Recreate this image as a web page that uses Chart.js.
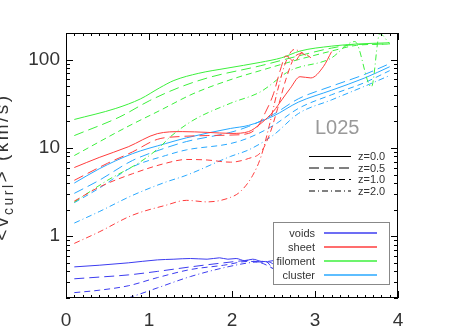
<!DOCTYPE html>
<html>
<head>
<meta charset="utf-8">
<script src="https://cdn.jsdelivr.net/npm/chart.js@4.4.1/dist/chart.umd.min.js"></script>
<style>
    html, body { margin: 0; padding: 0; background: #fff; }
    #wrap { width: 465px; height: 332px; position: relative; }
</style>
</head>
<body>
<div id="wrap"><canvas id="chart" width="465" height="332"></canvas></div>
<script>
// Axis ticks
const xTicks = [0, 1, 2, 3, 4];
const xTickLabels = ['0', '1', '2', '3', '4'];
const yTicks = [1, 10, 100];
const yTickLabels = ['1', '10', '100'];

// Redshift labels and environment names
const redshifts = ['z=0.0', 'z=0.5', 'z=1.0', 'z=2.0'];
const environments = ['voids', 'sheet', 'filoment', 'cluster'];

// voids
const voidsZ0x = [0.1, 0.4, 0.75, 1.1, 1.3, 1.5, 1.7, 1.85, 1.95, 2.05, 2.15, 2.25, 2.35, 2.45, 2.52];
const voidsZ0y = [0.45, 0.47, 0.50, 0.54, 0.55, 0.56, 0.55, 0.57, 0.55, 0.56, 0.53, 0.55, 0.52, 0.51, 0.47];
const voidsZ05x = [0.1, 0.4, 0.75, 1.1, 1.5, 1.9, 2.2, 2.35, 2.5];
const voidsZ05y = [0.33, 0.345, 0.365, 0.40, 0.45, 0.50, 0.53, 0.51, 0.53];
const voidsZ10x = [0.1, 0.4, 0.75, 1.1, 1.5, 1.9, 2.2, 2.35, 2.52];
const voidsZ10y = [0.23, 0.245, 0.275, 0.34, 0.42, 0.47, 0.52, 0.50, 0.42];
const voidsZ20x = [0.6, 0.75, 1.1, 1.5, 1.9, 2.2, 2.4, 2.52];
const voidsZ20y = [0.18, 0.20, 0.26, 0.35, 0.44, 0.50, 0.52, 0.39];

// sheet
const sheetZ0x = [0.1, 0.4, 0.75, 1.1, 1.4, 1.7, 2.0, 2.2, 2.35, 2.5, 2.6, 2.7, 2.82, 2.95, 3.1, 3.2];
const sheetZ0y = [6.0, 7.8, 10.3, 14.5, 15.3, 15.0, 14.6, 15.3, 19, 26, 35, 47, 64, 62, 83, 123];
const sheetZ05x = [0.1, 0.5, 0.8, 1.1, 1.4, 1.7, 2.0, 2.2, 2.3, 2.4, 2.5, 2.58, 2.65, 2.75, 2.85, 2.95];
const sheetZ05y = [4.3, 6.7, 9.0, 12.5, 13.5, 13.8, 14, 14.6, 17, 25, 41, 75, 110, 95, 120, 105];
const sheetZ10x = [0.1, 0.4, 0.8, 1.2, 1.45, 1.7, 1.98, 2.2, 2.35, 2.45, 2.55, 2.65, 2.75, 2.85];
const sheetZ10y = [2.5, 3.6, 5.1, 6.7, 7.4, 7.3, 6.9, 7.6, 9, 14, 28, 60, 105, 120];
const sheetZ20x = [0.1, 0.4, 0.8, 1.2, 1.45, 1.7, 1.98, 2.1, 2.25, 2.35, 2.45, 2.55, 2.65, 2.75, 2.9];
const sheetZ20y = [0.83, 1.12, 1.73, 2.24, 2.55, 2.45, 2.75, 3.2, 4.9, 8, 18, 45, 95, 130, 110];

// filament
const filZ0x = [0.1, 0.6, 0.9, 1.13, 1.3, 1.6, 1.94, 2.34, 2.6, 2.82, 3.2, 3.5, 3.9];
const filZ0y = [21, 28, 36, 48, 58, 70, 80, 93, 105, 125, 142, 150, 155];
const filZ05x = [0.1, 0.65, 1.01, 1.37, 1.73, 2.34, 2.8, 3.2, 3.5, 3.9];
const filZ05y = [13.8, 22.5, 34.4, 48.6, 63, 85, 110, 135, 148, 150];
const filZ10x = [0.1, 0.73, 1.13, 1.53, 2.0, 2.34, 2.8, 3.2, 3.5, 3.9];
const filZ10y = [8.2, 17.2, 26.5, 41, 60, 75, 100, 125, 145, 150];
const filZ20x = [0.1, 0.5, 0.89, 1.13, 1.25, 1.53, 1.98, 2.34, 2.7, 3.18, 3.48, 3.68, 3.78, 3.9];
const filZ20y = [2.44, 4.3, 6.9, 10.2, 13.2, 20.5, 32, 43, 75, 102, 160, 49, 196, 150];

// cluster
const cluX = [0.1, 0.4, 0.8, 1.2, 1.45, 1.98, 2.2, 2.5, 2.8, 3.2, 3.6, 3.9];
const cluZ0y = [4.0, 5.8, 8.6, 11.2, 13, 16.6, 18, 23, 33, 45, 62, 83];
const cluZ05y = [3.06, 4.3, 7.2, 10, 11.8, 15, 17.5, 24, 36, 50, 68, 90];
const cluZ10y = [2.4, 3.5, 6.1, 8.2, 9.5, 11.2, 13, 18, 28, 40, 55, 75];
const cluZ20y = [1.41, 1.9, 2.9, 4.1, 4.9, 8.0, 9.5, 14, 24.5, 35, 50, 66];

const envColors = ['#3c3cf0', '#ff3c3c', '#3cf03c', '#28a8ff'];
const zDashes = [[], [10, 5], [6, 4], [6, 3, 1, 3]];
const FONT = '"Liberation Sans", Arial, sans-serif';

const lines = [
    [0, 0, voidsZ0x, voidsZ0y], [0, 1, voidsZ05x, voidsZ05y], [0, 2, voidsZ10x, voidsZ10y], [0, 3, voidsZ20x, voidsZ20y],
    [1, 0, sheetZ0x, sheetZ0y], [1, 1, sheetZ05x, sheetZ05y], [1, 2, sheetZ10x, sheetZ10y], [1, 3, sheetZ20x, sheetZ20y],
    [2, 0, filZ0x, filZ0y], [2, 1, filZ05x, filZ05y], [2, 2, filZ10x, filZ10y], [2, 3, filZ20x, filZ20y],
    [3, 0, cluX, cluZ0y], [3, 1, cluX, cluZ05y], [3, 2, cluX, cluZ10y], [3, 3, cluX, cluZ20y]
];

const datasets = lines.map(([env, z, xs, ys]) => ({
    label: environments[env] + ' ' + redshifts[z],
    data: xs.map((x, i) => ({ x: x, y: ys[i] })),
    borderColor: envColors[env],
    borderWidth: 1,
    borderDash: zDashes[z],
    pointRadius: 0,
    fill: false,
    cubicInterpolationMode: 'monotone'
}));

// frame, inward ticks, legends and y title
const decorations = {
    id: 'decorations',
    afterDraw(chart) {
        const ctx = chart.ctx;
        const { left, right, top, bottom } = chart.chartArea;
        const xs = chart.scales.x;
        const ys = chart.scales.y;

        ctx.save();
        ctx.strokeStyle = '#000';
        ctx.lineWidth = 1;
        ctx.setLineDash([]);
        ctx.strokeRect(left + 0.5, top + 0.5, right - left - 1, bottom - top - 1);

        // x ticks
        for (let i = 0; i <= 40; i++) {
            const v = i / 10;
            const px = Math.round(xs.getPixelForValue(v)) + 0.5;
            const len = (i % 10 === 0) ? 7 : 3;
            ctx.beginPath();
            ctx.moveTo(px, bottom); ctx.lineTo(px, bottom - len);
            ctx.moveTo(px, top); ctx.lineTo(px, top + len);
            ctx.stroke();
        }
        // y ticks
        [0.1, 1, 10, 100].forEach(dec => {
            for (let m = 1; m <= 9; m++) {
                const v = dec * m;
                if (v < 0.2 || v > 200) continue;
                const py = Math.round(ys.getPixelForValue(v)) + 0.5;
                const len = (m === 1) ? 7 : 4;
                ctx.beginPath();
                ctx.moveTo(left, py); ctx.lineTo(left + len, py);
                ctx.moveTo(right, py); ctx.lineTo(right - len, py);
                ctx.stroke();
            }
        });

        // L025 label
        ctx.fillStyle = '#999';
        ctx.font = '20px ' + FONT;
        ctx.textBaseline = 'middle';
        ctx.textAlign = 'left';
        ctx.fillText('L025', 315, 128);

        // redshift line-style legend
        ctx.font = '11px ' + FONT;
        ctx.fillStyle = '#333';
        const zRows = [156, 167.5, 179, 190.5];
        redshifts.forEach((txt, i) => {
            ctx.strokeStyle = '#000';
            ctx.setLineDash(zDashes[i]);
            ctx.beginPath();
            ctx.moveTo(309, zRows[i] + 0.5);
            ctx.lineTo(351, zRows[i] + 0.5);
            ctx.stroke();
            ctx.fillText(txt, 358, zRows[i] + 1);
        });

        // environment colour legend
        ctx.setLineDash([]);
        ctx.fillStyle = '#fff';
        ctx.fillRect(273, 222, 116, 62);
        ctx.strokeStyle = '#888';
        ctx.strokeRect(273.5, 222.5, 116, 62);
        const eRows = [233, 247, 261, 275];
        ctx.textAlign = 'right';
        ctx.fillStyle = '#333';
        environments.forEach((txt, i) => {
            ctx.fillText(txt, 315, eRows[i] + 1);
            ctx.strokeStyle = envColors[i];
            ctx.lineWidth = 1.5;
            ctx.beginPath();
            ctx.moveTo(324, eRows[i]);
            ctx.lineTo(377, eRows[i]);
            ctx.stroke();
        });

        // y title with subscript
        ctx.translate(8, 167);
        ctx.rotate(-Math.PI / 2);
        ctx.fillStyle = '#333';
        ctx.textAlign = 'left';
        ctx.textBaseline = 'alphabetic';
        if ('letterSpacing' in ctx) ctx.letterSpacing = '2.5px';
        const mainFont = '19px ' + FONT;
        const subFont = '14px ' + FONT;
        const parts = [['<v', mainFont, 0], ['curl', subFont, 5], ['> (km/s)', mainFont, 0]];
        let total = 0;
        parts.forEach(p => { ctx.font = p[1]; total += ctx.measureText(p[0]).width; });
        let cx = -total / 2;
        parts.forEach(p => {
            ctx.font = p[1];
            ctx.fillText(p[0], cx, p[2]);
            cx += ctx.measureText(p[0]).width;
        });
        ctx.restore();
    }
};

new Chart(document.getElementById('chart'), {
    type: 'line',
    data: { datasets: datasets },
    options: {
        responsive: false,
        animation: false,
        devicePixelRatio: 1,
        layout: { padding: { top: 33, right: 67, left: 0, bottom: 0 } },
        plugins: { legend: { display: false }, tooltip: { enabled: false } },
        scales: {
            x: {
                type: 'linear',
                min: 0,
                max: 4,
                afterFit: s => { s.height = 34; },
                afterBuildTicks: s => { s.ticks = xTicks.map(v => ({ value: v })); },
                grid: { display: false, drawTicks: false },
                border: { display: false },
                ticks: {
                    padding: 11,
                    color: '#333',
                    font: { family: FONT, size: 19 },
                    maxRotation: 0,
                    callback: v => xTickLabels[xTicks.indexOf(v)]
                }
            },
            y: {
                type: 'logarithmic',
                min: 0.2,
                max: 200,
                afterFit: s => { s.width = 66; },
                afterBuildTicks: s => { s.ticks = yTicks.map(v => ({ value: v })); },
                grid: { display: false, drawTicks: false },
                border: { display: false },
                ticks: {
                    padding: 6,
                    color: '#333',
                    font: { family: FONT, size: 19 },
                    callback: v => yTickLabels[yTicks.indexOf(v)]
                }
            }
        }
    },
    plugins: [decorations]
});
</script>
</body>
</html>
